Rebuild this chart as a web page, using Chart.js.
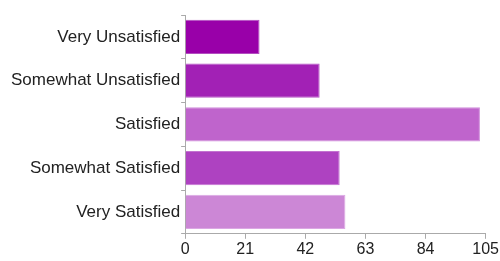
<!DOCTYPE html>
<html>
<head>
<meta charset="utf-8">
<script src="https://cdn.jsdelivr.net/npm/chart.js"></script>
<style>
  body { margin: 0; background: #fff; }
</style>
</head>
<body>
<canvas id="chart" width="500" height="261"></canvas>
<script>
// data
const categories = ['Very Unsatisfied', 'Somewhat Unsatisfied', 'Satisfied', 'Somewhat Satisfied', 'Very Satisfied'];
const responses = [26, 47, 103, 54, 56];
const barColors = ['#9900a9', '#a221b5', '#bf64cc', '#ae42c1', '#cc87d6'];
const edgeColors = ['#b34dc0', '#b655c5', '#d08ddb', '#c373d0', '#dba8e3'];
const xTicks = [0, 21, 42, 63, 84, 105];

var ctx = document.getElementById('chart').getContext('2d');
let myChart = new Chart(ctx, {
    type: 'bar',
    data: {
        labels: categories,
        datasets: [{
            data: responses,
            backgroundColor: barColors,
            borderColor: edgeColors,
            borderWidth: 1,
            barPercentage: 0.78,
            categoryPercentage: 1
        }]
    },
    options: {
        indexAxis: 'y',
        responsive: false,
        animation: false,
        layout: {
            padding: { top: 15, left: 10, right: 1, bottom: 1 }
        },
        plugins: {
            legend: { display: false },
            tooltip: { enabled: false }
        },
        scales: {
            x: {
                min: 0,
                max: 105,
                afterBuildTicks: axis => {
                    axis.ticks = xTicks.map(v => ({ value: v }));
                },
                grid: {
                    drawOnChartArea: false,
                    color: '#aaa',
                    tickLength: 5
                },
                border: { color: '#aaa' },
                ticks: {
                    color: '#222',
                    padding: 1,
                    font: { family: 'Liberation Sans', size: 16 }
                }
            },
            y: {
                grid: {
                    drawOnChartArea: false,
                    color: '#aaa',
                    tickLength: 4
                },
                border: { color: '#aaa' },
                ticks: {
                    color: '#222',
                    padding: 1,
                    font: { family: 'Liberation Sans', size: 17 }
                }
            }
        }
    }
});
</script>
</body>
</html>
